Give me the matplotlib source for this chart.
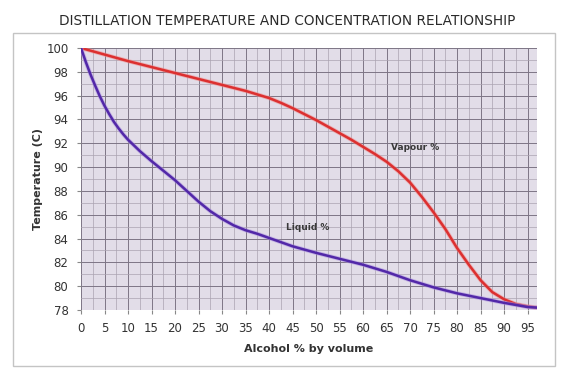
import matplotlib
matplotlib.use("Agg")
import matplotlib.pyplot as plt
from matplotlib.patches import Rectangle
from matplotlib.ticker import MultipleLocator

# data
vapour_x = [0, 5, 10, 15, 20, 25, 30, 35, 40, 42.5, 45, 47.5, 50, 52.5, 55, 57.5, 60, 62.5, 65, 67.5,
            70, 72.5, 75, 77.5, 80, 82.5, 85, 87.5, 90, 92.5, 95, 97]
vapour_y = [100, 99.45, 98.9, 98.4, 97.9, 97.4, 96.9, 96.4, 95.8, 95.4, 94.95, 94.45, 93.95, 93.4, 92.85,
            92.3, 91.7, 91.1, 90.45, 89.65, 88.7, 87.5, 86.2, 84.8, 83.2, 81.8, 80.5, 79.5, 78.9, 78.5, 78.3, 78.2]

liquid_x = [0, 1, 2, 3, 4, 5, 6, 7, 8, 9, 10, 12.5, 15, 17.5, 20, 22.5, 25, 27.5, 30, 32.5, 35, 37.5,
            40, 42.5, 45, 50, 55, 60, 65, 70, 75, 80, 85, 90, 95, 97]
liquid_y = [100, 98.85, 97.8, 96.85, 95.95, 95.15, 94.45, 93.8, 93.25, 92.75, 92.3, 91.35, 90.5, 89.7,
            88.9, 88.0, 87.1, 86.3, 85.65, 85.1, 84.7, 84.4, 84.05, 83.7, 83.35, 82.8, 82.3, 81.8, 81.2,
            80.5, 79.9, 79.4, 79.0, 78.6, 78.25, 78.2]

x_ticks = list(range(0, 100, 5))
y_ticks = list(range(78, 101, 2))

fig = plt.figure(figsize=(5.75, 3.8), dpi=100)
fig.patch.set_facecolor('white')

# outer frame round the chart
fig.patches.append(Rectangle((13/575, 1-366/380), 542/575, 333/380, transform=fig.transFigure,
                             fill=False, edgecolor='#c4c4c4', linewidth=1.0))

ax = fig.add_axes([81/575, 1-310/380, 456/575, 262/380])
ax.set_facecolor('#e2dde8')

ax.plot(vapour_x, vapour_y, color='#f08a8a', linewidth=3.0, alpha=0.55, solid_joinstyle='round', solid_capstyle='round')
ax.plot(vapour_x, vapour_y, color='#dc3030', linewidth=1.8, solid_joinstyle='round', solid_capstyle='round')
ax.plot(liquid_x, liquid_y, color='#a98de0', linewidth=3.0, alpha=0.55, solid_joinstyle='round', solid_capstyle='round')
ax.plot(liquid_x, liquid_y, color='#5228a8', linewidth=1.8, solid_joinstyle='round', solid_capstyle='round')

ax.set_xlim(0, 97)
ax.set_ylim(78, 100)
ax.set_xticks(x_ticks)
ax.set_yticks(y_ticks)
ax.xaxis.set_minor_locator(MultipleLocator(2.5))
ax.yaxis.set_minor_locator(MultipleLocator(1))
ax.grid(which='major', color='#7d7585', linewidth=0.7)
ax.grid(which='minor', color='#aaa3b0', linewidth=0.5)
ax.set_axisbelow(True)

for s in ax.spines.values():
    s.set_visible(False)
ax.tick_params(which='major', length=3, color='#888888', labelsize=8.5, labelcolor='#333333', pad=6)
ax.tick_params(which='minor', length=0)

ax.set_xlabel('Alcohol % by volume', fontsize=8, fontweight='bold', color='#333333', labelpad=6)
ax.set_ylabel('Temperature (C)', fontsize=8, fontweight='bold', color='#333333', labelpad=2)

ax.text(71, 91.65, 'Vapour %', fontsize=6.5, fontweight='bold', color='#3a3a3a', ha='center', va='center')
ax.text(48.3, 84.9, 'Liquid %', fontsize=6.5, fontweight='bold', color='#3a3a3a', ha='center', va='center')

fig.text(0.5, 1-21/380, 'DISTILLATION TEMPERATURE AND CONCENTRATION RELATIONSHIP',
         ha='center', va='center', fontsize=9.8, color='#2a2a2a')

fig.savefig('out.png', dpi=100)
